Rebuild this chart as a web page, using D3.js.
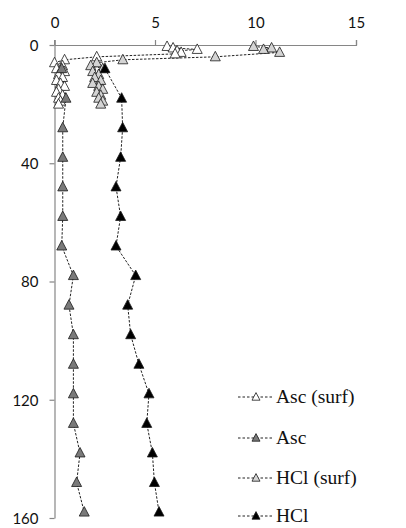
<!DOCTYPE html>
<html>
<head>
<meta charset="utf-8">
<script src="https://cdn.jsdelivr.net/npm/d3@7"></script>
<style>
  body { margin: 0; background: #fff; }
  svg { display: block; }
</style>
</head>
<body>
<svg id="chart" width="406" height="528"></svg>
<script>
// Data (depth in cm, value)
const xTicks = [0, 5, 10, 15];
const yTicks = [0, 40, 80, 120, 160];

const ascSurfDepth = [0.5, 1, 1.5, 2, 2.5, 3, 4, 5, 6, 7, 8, 9, 10, 11, 12, 13, 14, 15, 16, 17, 18, 19, 20];
const ascSurfValue = [5.6, 5.9, 7.1, 6.1, 6.3, 6.0, 2.1, 0.5, 0.0, 0.4, 0.1, 0.5, 0.2, 0.4, 0.1, 0.3, 0.5, 0.2, 0.1, 0.4, 0.2, 0.3, 0.2];

const hclSurfDepth = [0.5, 1, 1.5, 2.5, 4, 5, 6, 7, 8, 9, 10, 11, 12, 13, 14, 15, 16, 17, 18, 19, 20];
const hclSurfValue = [9.9, 10.8, 10.4, 11.2, 8.0, 3.4, 2.1, 1.8, 2.4, 1.9, 2.2, 2.0, 2.3, 1.9, 2.2, 2.4, 2.1, 2.3, 2.2, 2.4, 2.3];

const coreDepth = [8, 18, 28, 38, 48, 58, 68, 78, 88, 98, 108, 118, 128, 138, 148, 158];
const ascValue = [0.36, 0.57, 0.41, 0.41, 0.41, 0.41, 0.36, 0.94, 0.72, 0.94, 0.94, 0.94, 0.94, 1.27, 1.1, 1.48];
const hclValue = [2.51, 3.34, 3.39, 3.29, 3.06, 3.29, 3.06, 4.04, 3.64, 3.79, 4.2, 4.7, 4.59, 4.87, 4.97, 5.2];

const seriesNames = ['Asc (surf)', 'Asc', 'HCl (surf)', 'HCl'];
const seriesFills = ['#ffffff', '#7a7a7a', '#d4d4d4', '#000000'];

const series = [
    { name: seriesNames[0], fill: seriesFills[0], pts: ascSurfDepth.map((d, i) => [ascSurfValue[i], d]) },
    { name: seriesNames[1], fill: seriesFills[1], pts: coreDepth.map((d, i) => [ascValue[i], d]) },
    { name: seriesNames[2], fill: seriesFills[2], pts: hclSurfDepth.map((d, i) => [hclSurfValue[i], d]) },
    { name: seriesNames[3], fill: seriesFills[3], pts: coreDepth.map((d, i) => [hclValue[i], d]) }
];

const svg = d3.select('#chart');
const x = d3.scaleLinear().domain([0, 15]).range([54.5, 356]);
const y = d3.scaleLinear().domain([0, 160]).range([45, 518]);

// axes
const axisColor = '#868686';
const gx = svg.append('g').attr('transform', 'translate(0,45)')
    .call(d3.axisTop(x).tickValues(xTicks).tickSize(5).tickSizeOuter(5).tickPadding(12));
const gy = svg.append('g').attr('transform', 'translate(54.5,0)')
    .call(d3.axisLeft(y).tickValues(yTicks).tickSize(5).tickSizeOuter(0).tickPadding(11));
svg.append('line')
    .attr('x1', 54.5).attr('x2', 54.5).attr('y1', 40).attr('y2', 45)
    .attr('stroke', axisColor);

[gx, gy].forEach(g => {
    g.selectAll('path, line').attr('stroke', axisColor).attr('stroke-width', 1.2);
    g.selectAll('text').attr('font-family', 'Lato, Carlito, sans-serif')
        .attr('font-size', 15).attr('fill', '#111');
});
gy.selectAll('text').attr('dy', '0.35em');

// triangle marker
const tri = s => `M0,${-5.5 * s}L${5 * s},${4 * s}L${-5 * s},${4 * s}Z`;

const line = d3.line().x(d => x(d[0])).y(d => y(d[1]));

series.forEach(s => {
    svg.append('path')
        .datum(s.pts)
        .attr('d', line)
        .attr('fill', 'none')
        .attr('stroke', '#222')
        .attr('stroke-width', 1)
        .attr('stroke-dasharray', '2.5,1.5');
});

series.forEach(s => {
    svg.append('g').selectAll('path')
        .data(s.pts)
        .join('path')
        .attr('transform', d => `translate(${x(d[0])},${y(d[1])})`)
        .attr('d', tri(1))
        .attr('fill', s.fill)
        .attr('stroke', '#1a1a1a')
        .attr('stroke-width', 0.8);
});

// legend
const legendY = [397, 438, 478, 516];
const lg = svg.append('g');
series.forEach((s, i) => {
    const row = lg.append('g').attr('transform', `translate(0,${legendY[i]})`);
    row.append('line')
        .attr('x1', 238).attr('x2', 274).attr('y1', 0).attr('y2', 0)
        .attr('stroke', '#222').attr('stroke-dasharray', '2.5,2');
    row.append('path')
        .attr('transform', 'translate(256,0)')
        .attr('d', tri(0.8))
        .attr('fill', s.fill)
        .attr('stroke', '#1a1a1a')
        .attr('stroke-width', 0.8);
    row.append('text')
        .attr('x', 276).attr('y', 0).attr('dy', '0.33em')
        .attr('font-family', '"Liberation Serif", "Times New Roman", serif')
        .attr('font-size', 19.5)
        .attr('fill', '#111')
        .text(s.name);
});
</script>
</body>
</html>
